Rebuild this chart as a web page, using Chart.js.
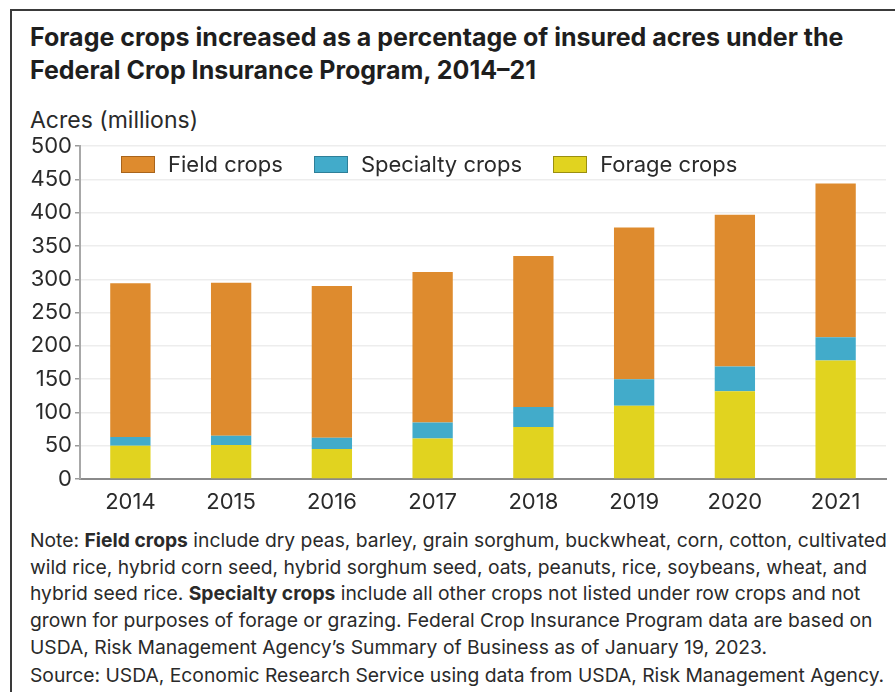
<!DOCTYPE html>
<html>
<head>
<meta charset="utf-8">
<script src="https://cdn.jsdelivr.net/npm/chart.js"></script>
<style>
  body { margin: 0; background: #fff; font-family: Inter, "Liberation Sans", sans-serif; color: #222; }
  #frame { position: absolute; left: 10px; top: 9px; width: 900px; height: 700px;
           border-top: 2px solid #3a3a3a; border-left: 2px solid #3a3a3a; }
  #titulo { position: absolute; left: 30px; top: 21px; font-size: 25px; font-weight: 700;
            line-height: 33px; color: #1e1e1e; white-space: nowrap; }
  #unidad { position: absolute; left: 30px; top: 106px; font-size: 23px; line-height: 28px; color: #2a2a2a; }
  #grafica { position: absolute; left: 0; top: 130px; width: 895px; height: 390px; }
  #leyenda { position: absolute; left: 121px; top: 153px; display: flex; align-items: center;
             font-size: 22px; line-height: 22px; color: #2a2a2a; }
  #leyenda .item { display: flex; align-items: center; margin-right: 31px; }
  #leyenda .caja { width: 32px; height: 15px; margin-right: 13px; border: 1px solid; }
  #nota { position: absolute; left: 30px; top: 527px; font-size: 19.3px; line-height: 26.7px;
          color: #2a2a2a; white-space: nowrap; }
  #fuente { position: absolute; left: 30px; top: 662px; font-size: 19.3px; line-height: 27px; color: #2a2a2a; white-space: nowrap; }
</style>
</head>
<body>
<div id="frame"></div>
<div id="titulo">Forage crops increased as a percentage of insured acres under the<br>Federal Crop Insurance Program, 2014–21</div>
<div id="unidad">Acres (millions)</div>
<div id="grafica"><canvas id="myChart"></canvas></div>
<div id="leyenda"></div>
<div id="nota">Note: <b>Field crops</b> include dry peas, barley, grain sorghum, buckwheat, corn, cotton, cultivated<br>wild rice, hybrid corn seed, hybrid sorghum seed, oats, peanuts, rice, soybeans, wheat, and<br>hybrid seed rice. <b>Specialty crops</b> include all other crops not listed under row crops and not<br>grown for purposes of forage or grazing. Federal Crop Insurance Program data are based on<br>USDA, Risk Management Agency’s Summary of Business as of January 19, 2023.</div>
<div id="fuente">Source: USDA, Economic Research Service using data from USDA, Risk Management Agency.</div>

<script>
// datos (millones de acres)
const anios = ["2014", "2015", "2016", "2017", "2018", "2019", "2020", "2021"];
const forraje = [50, 51, 45, 61, 78, 110, 132, 178];
const especialidad = [13, 14, 17, 24, 30, 40, 37, 35];
const campo = [231, 230, 228, 226, 227, 228, 228, 231];
const marcasY = [0, 50, 100, 150, 200, 250, 300, 350, 400, 450, 500];

const fuente = "Inter, 'Liberation Sans', sans-serif";

// de abajo hacia arriba en la pila
const chart = new Chart("myChart", {
    type: "bar",
    data: {
        labels: anios,
        datasets: [
            { label: "Forage crops", data: forraje, backgroundColor: "#e1d31f", borderColor: "#9a8f10" },
            { label: "Specialty crops", data: especialidad, backgroundColor: "#42abca", borderColor: "#2e7f98" },
            { label: "Field crops", data: campo, backgroundColor: "#de8b2e", borderColor: "#a8641c" }
        ]
    },
    options: {
        responsive: true,
        maintainAspectRatio: false,
        animation: false,
        layout: { padding: { top: 16, right: 9, left: 0, bottom: 0 } },
        datasets: { bar: { categoryPercentage: 1, barPercentage: 0.4, borderWidth: 0 } },
        plugins: {
            legend: { display: false },
            tooltip: { enabled: false }
        },
        scales: {
            x: {
                stacked: true,
                grid: { display: false },
                border: { display: true, color: "#8a8a8a", width: 2 },
                ticks: { color: "#2a2a2a", padding: 2, font: { family: fuente, size: 22 } },
                afterFit: function (axis) { axis.height = 41; }
            },
            y: {
                stacked: true,
                min: 0,
                max: 500,
                afterBuildTicks: function (axis) { axis.ticks = marcasY.map(v => ({ value: v })); },
                grid: { color: "#ededed", lineWidth: 1.5, tickColor: "#9a9a9a", tickLength: 5 },
                border: { display: true, color: "#a8a8a8", width: 2 },
                ticks: { color: "#2a2a2a", padding: 3, font: { family: fuente, size: 22 } },
                afterFit: function (axis) { axis.width = 80; }
            }
        }
    }
});

// leyenda en html, a partir de las etiquetas de Chart.js (orden inverso a la pila)
let leyenda = document.querySelector("#leyenda");
let items = Chart.defaults.plugins.legend.labels.generateLabels(chart).reverse();
items.forEach(function (it) {
    let div = document.createElement("div");
    div.className = "item";
    let caja = document.createElement("span");
    caja.className = "caja";
    caja.style.background = it.fillStyle;
    caja.style.borderColor = chart.data.datasets[it.datasetIndex].borderColor;
    let txt = document.createElement("span");
    txt.textContent = it.text;
    div.appendChild(caja);
    div.appendChild(txt);
    leyenda.appendChild(div);
});
</script>
</body>
</html>
